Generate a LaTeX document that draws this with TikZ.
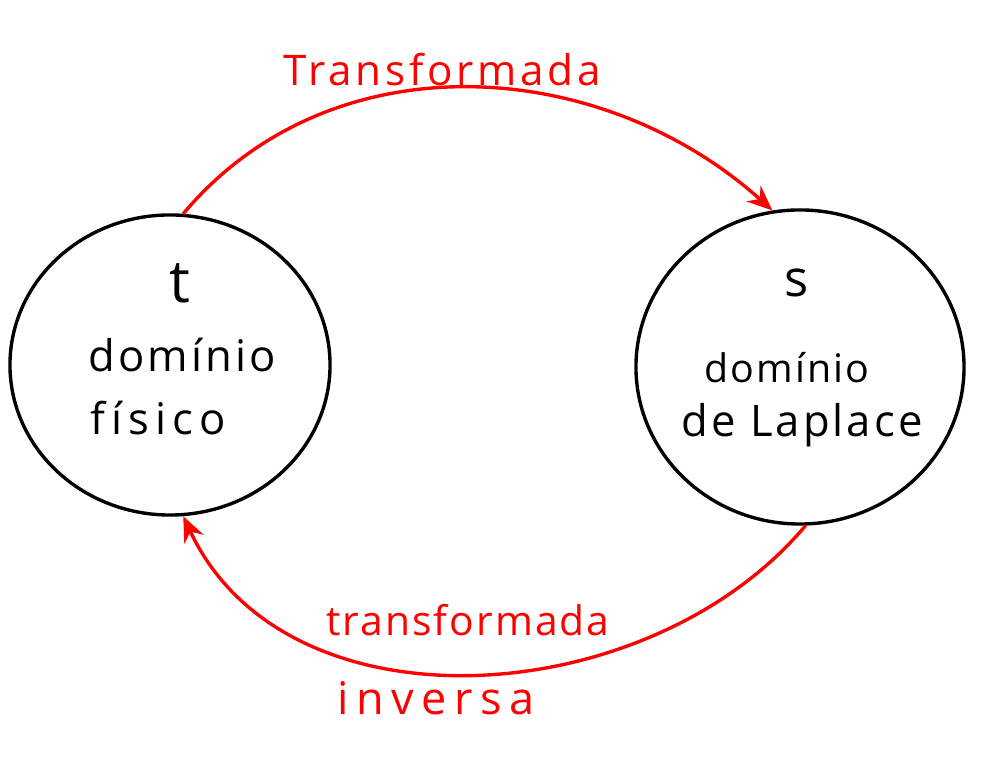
\documentclass[tikz,border=0pt]{standalone}
\usepackage{fontspec}
\setmainfont{Open Sans}
\usetikzlibrary{shapes.geometric}
\usetikzlibrary{arrows.meta}

\begin{document}
\begin{tikzpicture}[x=0.025cm, y=0.025cm,
    dominio/.style={draw=black, line width=2.4pt, ellipse, inner sep=0pt},
    seta/.style={red, line width=2.4pt, -{Stealth[length=18pt, width=15pt]}},
    rotulo/.style={red, font=\fontsize{30}{34}\selectfont\addfontfeature{LetterSpace=9}},
    texto/.style={font=\fontsize{31}{36}\selectfont\addfontfeature{LetterSpace=7}}]
    \useasboundingbox (0,0) rectangle (992,767);
    % os dois dominios
    \node[dominio, minimum width=8cm, minimum height=7.5cm] (fisico) at (170, 402) {};
    \node[dominio, minimum width=8.2cm, minimum height=7.85cm] (laplace) at (800, 400) {};
    \node[texto, font=\fontsize{42}{46}\selectfont] (t) at (180, 484) {t};
    \node[texto] (dom1) at (182, 412) {domínio};
    \node[texto, font=\fontsize{31}{36}\selectfont\addfontfeature{LetterSpace=14}] (fis) at (158, 349) {físico};
    \node[texto, font=\fontsize{36}{40}\selectfont] (s) at (797, 484) {s};
    \node[texto, font=\fontsize{28}{32}\selectfont\addfontfeature{LetterSpace=5}] (dom2) at (787, 399) {domínio};
    \node[texto] (lap) at (802, 342) {de Laplace};
    % transformadas
    \draw[seta] (fisico.85) to[out=50, in=138] (laplace.100);
    \draw[seta] (laplace.272) to[out=-130, in=-65] (fisico.275);
    \node[rotulo] (tr) at (442, 697) {Transformada};
    \node[rotulo, font=\fontsize{29}{34}\selectfont\addfontfeature{LetterSpace=5}] (tri) at (468, 147) {transformada};
    \node[rotulo, font=\fontsize{32}{36}\selectfont\addfontfeature{LetterSpace=17}] (inv) at (436, 69) {inversa};
\end{tikzpicture}
\end{document}
